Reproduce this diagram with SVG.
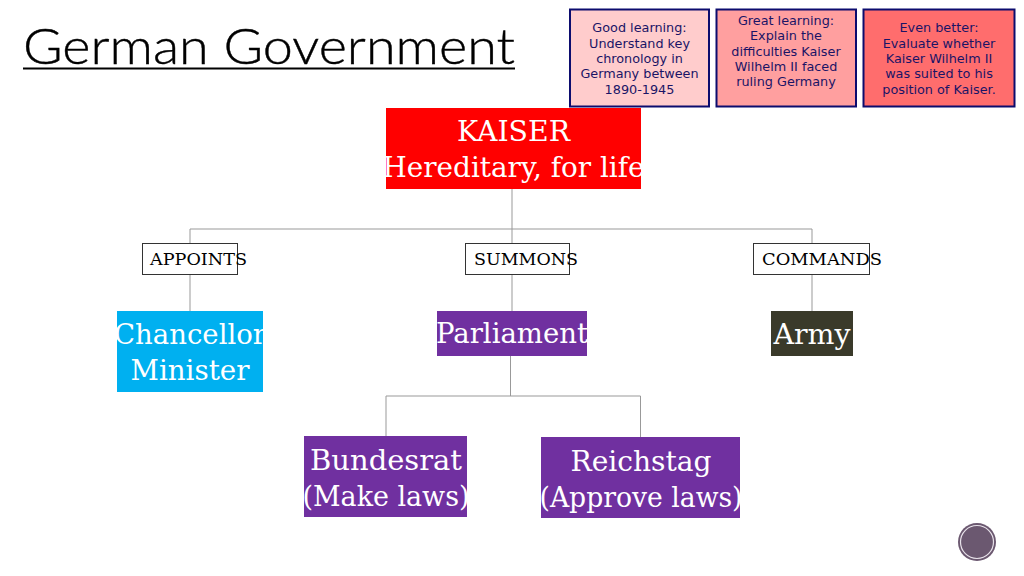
<svg xmlns="http://www.w3.org/2000/svg" width="1024" height="576" viewBox="0 0 1024 576">
<style>
.obj{font-family:"DejaVu Sans",Verdana,sans-serif;font-size:12.8px;fill:#1a1466;text-anchor:middle}
.ob{stroke:#0c0c6e;stroke-width:2}
.big{font-family:"DejaVu Serif","Liberation Serif",serif;font-size:27.5px;fill:#fff;text-anchor:middle}
.lab{font-family:"DejaVu Serif","Liberation Serif",serif;font-size:16.500px;fill:#000;text-anchor:middle}
.lb{fill:#fff;stroke:#333;stroke-width:1}
.c{fill:none;stroke:#999;stroke-width:1}
</style>
<rect width="1024" height="576" fill="#fff"/>
<g id="title"><text x="23" y="64" font-family="Lato,'Open Sans',sans-serif" font-size="49" font-weight="300" fill="#000" stroke="#000" stroke-width="0.400" textLength="492" lengthAdjust="spacingAndGlyphs">German Government</text><rect x="23" y="67.500" width="492" height="2" fill="#000"/></g>
<g id="connectors">
<path class="c" d="M512 189V243M190 243V229H812V243M190 275V311M512 275V311M812 275V311"/>
<path class="c" stroke="#777" d="M510.500 356V396M386 436V396H640.500V437"/>
</g>
<g id="obj-good"><rect class="ob" x="570" y="9.500" width="139" height="97" fill="#ffcccc"/><text class="obj"><tspan x="639.500" y="32">Good learning:</tspan><tspan x="639.500" y="47.500">Understand key</tspan><tspan x="639.500" y="63">chronology in</tspan><tspan x="639.500" y="78">Germany between</tspan><tspan x="639.500" y="93.500">1890-1945</tspan></text></g>
<g id="obj-great"><rect class="ob" x="716.500" y="9.500" width="139.500" height="97" fill="#ff9f9f"/><text class="obj"><tspan x="786" y="24.500">Great learning:</tspan><tspan x="786" y="40">Explain the</tspan><tspan x="786" y="55.500">difficulties Kaiser</tspan><tspan x="786" y="71">Wilhelm II faced</tspan><tspan x="786" y="86">ruling Germany</tspan></text></g>
<g id="obj-better"><rect class="ob" x="863.500" y="9.500" width="151" height="97" fill="#ff6d6d"/><text class="obj"><tspan x="939" y="32">Even better:</tspan><tspan x="939" y="47.500">Evaluate whether</tspan><tspan x="939" y="63">Kaiser Wilhelm II</tspan><tspan x="939" y="78">was suited to his</tspan><tspan x="939" y="93.500">position of Kaiser.</tspan></text></g>
<g id="kaiser"><rect x="386" y="108" width="255" height="81" fill="#ff0000"/><text class="big" x="513.500" y="141" textLength="113" lengthAdjust="spacingAndGlyphs">KAISER</text><text class="big" x="513.500" y="177" textLength="262" lengthAdjust="spacingAndGlyphs">Hereditary, for life</text></g>
<g id="appoints"><rect class="lb" x="142.500" y="243.500" width="95" height="31"/><text class="lab" x="198.500" y="265" textLength="97" lengthAdjust="spacingAndGlyphs">APPOINTS</text></g>
<g id="summons"><rect class="lb" x="465.500" y="243.500" width="104" height="31"/><text class="lab" x="526" y="265" textLength="104" lengthAdjust="spacingAndGlyphs">SUMMONS</text></g>
<g id="commands"><rect class="lb" x="753.500" y="243.500" width="116" height="31"/><text class="lab" x="822" y="265" textLength="120" lengthAdjust="spacingAndGlyphs">COMMANDS</text></g>
<g id="chancellor"><rect x="117" y="311" width="146" height="81" fill="#00b0f0"/><text class="big" x="190" y="344" textLength="152" lengthAdjust="spacingAndGlyphs">Chancellor</text><text class="big" x="190" y="380" textLength="119" lengthAdjust="spacingAndGlyphs">Minister</text></g>
<g id="parliament"><rect x="437" y="311" width="150" height="45" fill="#7030a0"/><text class="big" x="512" y="343" textLength="152" lengthAdjust="spacingAndGlyphs">Parliament</text></g>
<g id="army"><rect x="771" y="311" width="82" height="45" fill="#3a3a2a"/><text class="big" x="812" y="344" textLength="77" lengthAdjust="spacingAndGlyphs">Army</text></g>
<g id="bundesrat"><rect x="304" y="436" width="163" height="81" fill="#7030a0"/><text class="big" x="386" y="470" textLength="152" lengthAdjust="spacingAndGlyphs">Bundesrat</text><text class="big" x="386" y="506" textLength="167" lengthAdjust="spacingAndGlyphs">(Make laws)</text></g>
<g id="reichstag"><rect x="541" y="437" width="199" height="81" fill="#7030a0"/><text class="big" x="641" y="471" textLength="141" lengthAdjust="spacingAndGlyphs">Reichstag</text><text class="big" x="641" y="507" textLength="203" lengthAdjust="spacingAndGlyphs">(Approve laws)</text></g>
<g id="badge"><circle cx="977" cy="542" r="19" fill="#6b5870"/><circle cx="977" cy="542" r="16.500" fill="none" stroke="#e8e2ea" stroke-width="1.200"/></g>
</svg>
